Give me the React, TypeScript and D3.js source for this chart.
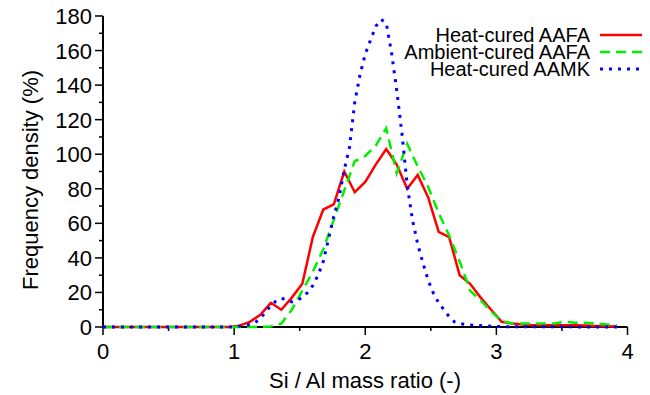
import React from "react";
import * as d3 from "d3";

const seriesNames = ["Heat-cured AAFA", "Ambient-cured AAFA", "Heat-cured AAMK"];
const seriesColors = ["#ff0000", "#00f000", "#0000ff"];

// Bin positions (Si/Al ratio) for the two AAFA series
const binX = [
  0, 0.08, 0.16, 0.24, 0.32, 0.4, 0.48, 0.56, 0.64, 0.72, 0.8, 0.88, 0.96,
  1.04, 1.12, 1.2, 1.28, 1.36, 1.44, 1.52, 1.6, 1.68, 1.76, 1.84, 1.92, 2.0,
  2.08, 2.16, 2.24, 2.32, 2.4, 2.48, 2.56, 2.64, 2.72, 2.8, 2.88, 2.96, 3.04,
  3.12, 3.2, 3.28, 3.36, 3.44, 3.52, 3.6, 3.68, 3.76, 3.84, 3.92,
];

const heatAAFA = [
  0, 0, 0, 0, 0, 0, 0, 0, 0, 0, 0, 0, 0,
  0.8, 3, 7, 14, 10, 17, 25, 52, 68, 71, 90, 78, 84,
  94, 103, 94, 80, 88, 75, 55, 52, 30, 25, 17, 10, 3,
  2, 1.5, 1, 1, 1, 1, 1, 0.8, 0.6, 0.5, 0.3,
];

const ambientAAFA = [
  0, 0, 0, 0, 0, 0, 0, 0, 0, 0, 0, 0, 0,
  0, 0, 0, 0.3, 2, 10, 21, 32, 45, 62, 79, 96, 99,
  105, 115, 89, 106, 93, 81, 66, 53, 38, 21, 15.5, 9, 3.5,
  2, 2, 2, 2, 2, 3, 2.5, 2.5, 2, 1.5, 0.8,
];

const mkX = [
  0, 1.0, 1.04, 1.08, 1.12, 1.16, 1.2, 1.24, 1.28, 1.32, 1.36, 1.4, 1.44, 1.48,
  1.52, 1.56, 1.6, 1.64, 1.68, 1.72, 1.76, 1.8, 1.84, 1.88, 1.92, 1.96, 2.0,
  2.04, 2.08, 2.12, 2.16, 2.2, 2.24, 2.28, 2.32, 2.36, 2.4, 2.44, 2.48, 2.52,
  2.56, 2.6, 2.64, 2.68, 2.72, 2.76, 2.8, 2.88, 2.96, 3.04, 3.92,
];
const heatAAMK = [
  0, 0, 0.5, 1, 1.5, 2.5, 5, 8.5, 12.5, 15, 16.5, 16, 14.5, 15.5,
  17, 20, 24, 30, 38, 51, 64, 75, 91, 104, 130, 146, 158,
  166, 174, 178, 176, 159, 137, 112, 82, 62, 48, 37, 27, 19.5,
  14, 10, 6, 3, 2, 1.5, 1.2, 0.8, 0.4, 0.2, 0,
];

const xTicks = [0, 1, 2, 3, 4];
const xMinor = [0.5, 1.5, 2.5, 3.5];
const yTicks = [0, 20, 40, 60, 80, 100, 120, 140, 160, 180];
const yMinor = [10, 30, 50, 70, 90, 110, 130, 150, 170];

const W = 650;
const H = 395;
const FONT = "'Liberation Sans', Arial, sans-serif";

export default function App() {
  const x = d3.scaleLinear().domain([0, 4]).range([103, 627.5]);
  const y = d3.scaleLinear().domain([0, 180]).range([327, 16]);

  const line = d3
    .line<[number, number]>()
    .x((d) => x(d[0]))
    .y((d) => y(d[1]));

  const redPts = binX.map((v, i) => [v, heatAAFA[i]] as [number, number]);
  const greenPts = binX.map((v, i) => [v, ambientAAFA[i]] as [number, number]);
  const bluePts = mkX.map((v, i) => [v, heatAAMK[i]] as [number, number]);

  const styles = [
    { dash: undefined as string | undefined, width: 2.5 },
    { dash: "10,6", width: 2.5 },
    { dash: "3,6", width: 3 },
  ];
  const paths = [redPts, greenPts, bluePts];

  const legendY = [35, 52, 69];

  return (
    <svg
      width={W}
      height={H}
      style={{ position: "absolute", left: 0, top: 0, background: "#fff" }}
      fontFamily={FONT}
    >
      <rect x={0} y={0} width={W} height={H} fill="#fff" />
      {/* axes */}
      <g stroke="#000" fill="none">
        <line x1={x(0)} x2={x(4)} y1={y(0)} y2={y(0)} strokeWidth={2} />
        <line x1={x(0)} x2={x(0)} y1={y(0)} y2={y(180)} strokeWidth={2} />
        {xTicks.map((t) => (
          <line key={"xt" + t} x1={x(t)} x2={x(t)} y1={y(0)} y2={y(0) + 8} strokeWidth={1.5} />
        ))}
        {xMinor.map((t) => (
          <line key={"xm" + t} x1={x(t)} x2={x(t)} y1={y(0)} y2={y(0) + 4} strokeWidth={1.5} />
        ))}
        {yTicks.map((t) => (
          <line key={"yt" + t} x1={x(0) - 8} x2={x(0)} y1={y(t)} y2={y(t)} strokeWidth={1.5} />
        ))}
        {yMinor.map((t) => (
          <line key={"ym" + t} x1={x(0) - 4} x2={x(0)} y1={y(t)} y2={y(t)} strokeWidth={1.5} />
        ))}
      </g>
      <g fontSize={22} fill="#000">
        {xTicks.map((t) => (
          <text key={"xl" + t} x={x(t)} y={359} textAnchor="middle">
            {t}
          </text>
        ))}
        {yTicks.map((t) => (
          <text key={"yl" + t} x={x(0) - 11} y={y(t) + 8} textAnchor="end">
            {t}
          </text>
        ))}
        <text x={365} y={388} textAnchor="middle">
          Si / Al mass ratio (-)
        </text>
        <text transform="translate(38,180) rotate(-90)" textAnchor="middle">
          Frequency density (%)
        </text>
      </g>
      {/* series */}
      {paths.map((p, i) => (
        <path
          key={"s" + i}
          d={line(p) || ""}
          fill="none"
          stroke={seriesColors[i]}
          strokeWidth={styles[i].width}
          strokeDasharray={styles[i].dash}
          strokeLinejoin="miter"
        />
      ))}
      {/* legend */}
      <g fontSize={20} fill="#000">
        {seriesNames.map((n, i) => (
          <g key={"lg" + i}>
            <text x={590} y={legendY[i] + 7} textAnchor="end">
              {n}
            </text>
            <line
              x1={600}
              x2={642}
              y1={legendY[i]}
              y2={legendY[i]}
              stroke={seriesColors[i]}
              strokeWidth={styles[i].width}
              strokeDasharray={styles[i].dash}
            />
          </g>
        ))}
      </g>
    </svg>
  );
}
